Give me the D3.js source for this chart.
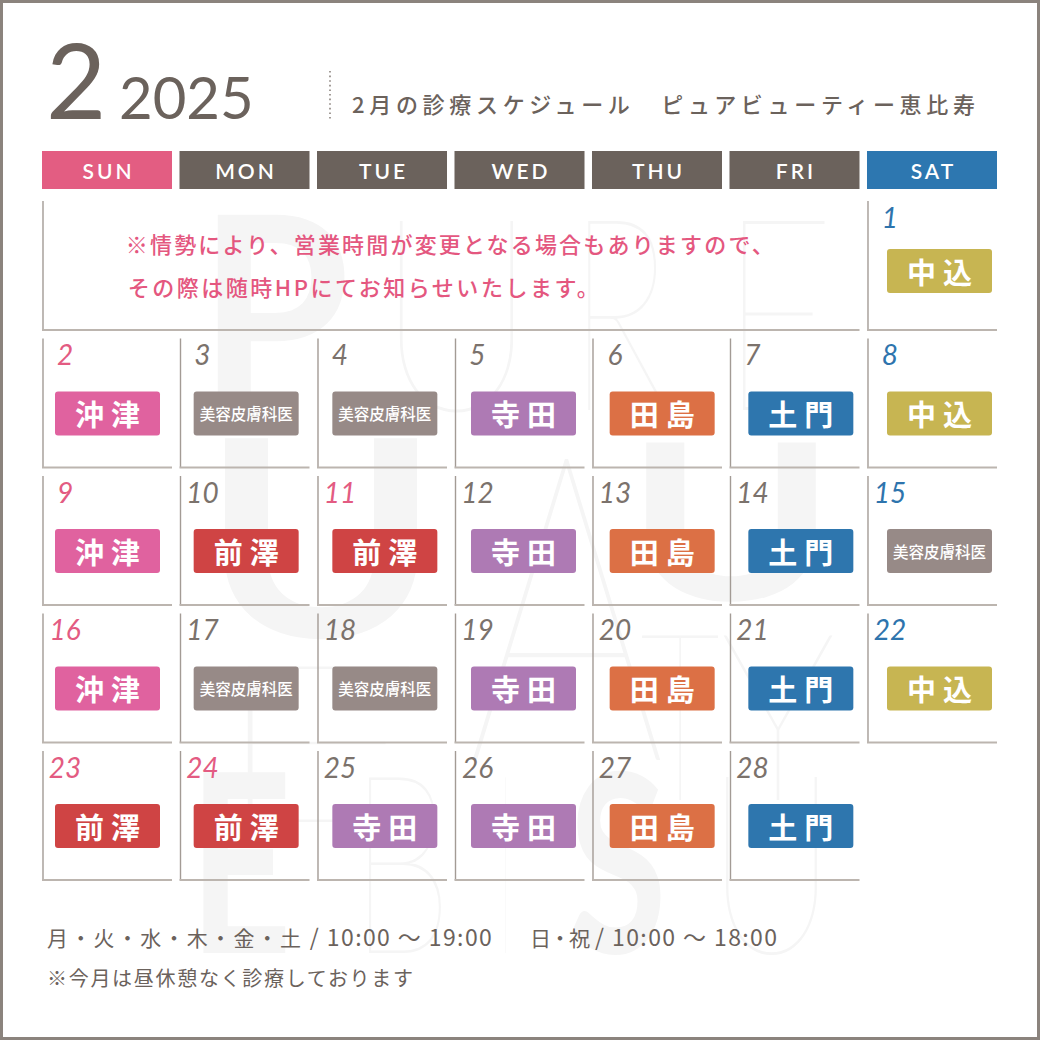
<!DOCTYPE html>
<html><head><meta charset="utf-8">
<script src="https://cdn.jsdelivr.net/npm/d3@7"></script>
<style>body{margin:0;background:#fff}svg{display:block}</style>
</head><body>
<svg id="c" width="1040" height="1040"></svg>
<script>
// ---- data ----
const monthNum = "2";
const yearLabel = "2025";
const subtitle = "2月の診療スケジュール　ピュアビューティー恵比寿";
const weekdays = ["SUN","MON","TUE","WED","THU","FRI","SAT"];
const firstWeekday = 6; // Feb 1, 2025 is Saturday
const dates = [1,2,3,4,5,6,7,8,9,10,11,12,13,14,15,16,17,18,19,20,21,22,23,24,25,26,27,28];
const doctors = ["中込",
  "沖津","美容皮膚科医","美容皮膚科医","寺田","田島","土門","中込",
  "沖津","前澤","前澤","寺田","田島","土門","美容皮膚科医",
  "沖津","美容皮膚科医","美容皮膚科医","寺田","田島","土門","中込",
  "前澤","前澤","寺田","寺田","田島","土門"];
const holidays = [11,23,24];
const noticeLines = ["※情勢により、営業時間が変更となる場合もありますので、","その際は随時HPにてお知らせいたします。"];
const hoursDays1 = "月・火・水・木・金・土";
const hoursTime1 = " / 10:00 ～ 19:00";
const hoursDays2 = "日・祝";
const hoursTime2 = " / 10:00 ～ 18:00";
const footNote = "※今月は昼休憩なく診療しております";
const doctorNames = ["沖津","美容皮膚科医","寺田","田島","土門","中込","前澤"];
const watermarkRows = ["PURE","UAU","ETY","EBISU"];

// ---- drawing ----
const svg = d3.select("#c");
const ink = "#6b625c";
const jp = "'Noto Sans CJK JP','Noto Sans',sans-serif";
const latin = "Lato,'Open Sans',sans-serif";

svg.append("rect").attr("width",1040).attr("height",1040).attr("fill","#fff");

// watermark (very faint logo letters)
const wmLayout = [
  // [row, index, x, baseline, fontSize, weight, width]
  [0,0,198,410,270,700,152],[0,1,376,410,270,100,161],[0,2,568,410,270,100,103],[0,3,720,410,270,100,116],
  [1,0,202,637,275,700,238],[1,1,466,760,430,100,201],[1,2,626,600,218,700,210],
  [2,0,202,822,222,100,230],[2,1,640,800,235,100,80],[2,2,720,800,235,100,116],
  [3,0,189,953,250,700,103],[3,1,350,953,250,100,102],[3,2,501,953,250,100,9],[3,3,568,953,250,700,99],[3,4,707,953,250,100,129]
];
svg.append("g").attr("fill","#f5f5f5").selectAll("text").data(wmLayout).join("text")
  .attr("x",d=>d[2]).attr("y",d=>d[3]).attr("font-size",d=>d[4]).attr("font-weight",d=>d[5])
  .attr("textLength",d=>d[6]).attr("lengthAdjust","spacingAndGlyphs")
  .attr("font-family","Lato,Inter,sans-serif").text(d=>watermarkRows[d[0]][d[1]]);

// frame
svg.append("rect").attr("x",1.5).attr("y",1.5).attr("width",1037).attr("height",1037)
  .attr("fill","none").attr("stroke","#8b837d").attr("stroke-width",3);

// header
svg.append("text").attr("x",46).attr("y",119).attr("font-size",104).attr("font-family",latin)
  .attr("fill",ink).text(monthNum);
svg.append("text").attr("x",119).attr("y",119).attr("font-size",58).attr("font-family",latin)
  .attr("fill",ink).text(yearLabel);
svg.append("line").attr("x1",330).attr("x2",330).attr("y1",71).attr("y2",121)
  .attr("stroke","#8b837d").attr("stroke-width",1.6).attr("stroke-dasharray","1.6,3");
svg.append("text").attr("x",352).attr("y",113).attr("font-size",22).attr("font-family",jp)
  .attr("font-weight",500).attr("fill",ink).attr("textLength",623).attr("lengthAdjust","spacing").text(subtitle);

// scales
const x = d3.scaleBand().domain(weekdays).range([42,997]).paddingInner(0.0545);
const y = d3.scaleBand().domain(d3.range(5)).range([201,880]).paddingInner(0.0618);
const bx = d3.scaleLinear().domain([0,6]).range([55,887]);
const bw = x.bandwidth(), bh = y.bandwidth();
const headColor = d3.scaleOrdinal().domain(weekdays).range(["#e35d82","#6b625c","#6b625c","#6b625c","#6b625c","#6b625c","#2d77b0"]);
const docColor = d3.scaleOrdinal().domain(doctorNames)
  .range(["#e0629f","#978a87","#ae7ab4","#dc7045","#2e76ae","#c7b552","#cf4444"]);

// weekday header
const hd = svg.append("g").selectAll("g").data(weekdays).join("g");
hd.append("rect").attr("x",d=>x(d)).attr("y",151).attr("width",bw).attr("height",38).attr("fill",d=>headColor(d));
hd.append("text").attr("x",d=>x(d)+bw/2+1.5).attr("y",179).attr("text-anchor","middle")
  .attr("font-family",latin).attr("font-size",21).attr("font-weight",600).attr("letter-spacing",3)
  .attr("fill","#fff").text(d=>d);

// cells
const cells = dates.map((d,i)=>{const idx=d-1+firstWeekday;return {date:d,doc:doctors[i],row:Math.floor(idx/7),col:idx%7};});
const lineG = svg.append("g");
lineG.append("line").attr("x1",x("SUN")+1).attr("x2",x("SUN")+1).attr("y1",y(0)).attr("y2",y(0)+bh)
  .attr("stroke","#a39b95").attr("stroke-width",1.4);
lineG.append("line").attr("x1",x("SUN")).attr("x2",x("FRI")+bw).attr("y1",y(0)+bh).attr("y2",y(0)+bh)
  .attr("stroke","#bcb5af").attr("stroke-width",2);
lineG.selectAll(".vl").data(cells).join("line").attr("class","vl")
  .attr("x1",d=>x(weekdays[d.col])+1).attr("x2",d=>x(weekdays[d.col])+1)
  .attr("y1",d=>y(d.row)).attr("y2",d=>y(d.row)+bh).attr("stroke","#a39b95").attr("stroke-width",1.4);
lineG.selectAll(".hl").data(cells).join("line").attr("class","hl")
  .attr("x1",d=>x(weekdays[d.col])).attr("x2",d=>x(weekdays[d.col])+bw)
  .attr("y1",d=>y(d.row)+bh).attr("y2",d=>y(d.row)+bh).attr("stroke","#bcb5af").attr("stroke-width",2);

// notice
const nx = (x("SUN")+x("FRI")+bw)/2 - 325;
svg.append("text").attr("x",nx).attr("y",253).attr("font-size",22).attr("font-family",jp).attr("font-weight",500)
  .attr("fill","#e4577f").attr("textLength",648).attr("lengthAdjust","spacing").text(noticeLines[0]);
svg.append("text").attr("x",nx+2).attr("y",296).attr("font-size",22).attr("font-family",jp).attr("font-weight",500)
  .attr("fill","#e4577f").attr("textLength",471).attr("lengthAdjust","spacing").text(noticeLines[1]);

// day numbers
const numColor = d => (d.col===0 || holidays.includes(d.date)) ? "#e35b82" : (d.col===6 ? "#2e74ad" : "#7b726c");
svg.append("g").selectAll("text").data(cells).join("text")
  .attr("x",d=>x(weekdays[d.col])+23).attr("y",d=>y(d.row)+27).attr("text-anchor","middle")
  .attr("font-family",latin).attr("font-style","italic").attr("font-weight",400).attr("font-size",28)
  .attr("fill",numColor).text(d=>d.date);

// badges
const bY = d => y(d.row) + (d.row===0 ? 48 : 53);
const bg = svg.append("g").selectAll("g").data(cells).join("g");
bg.append("rect").attr("x",d=>bx(d.col)).attr("y",bY).attr("width",105).attr("height",44).attr("rx",3)
  .attr("fill",d=>docColor(d.doc));
bg.append("text")
  .attr("x",d=>bx(d.col)+52.5 + (d.doc.length>2?0:3.5)).attr("y",d=>bY(d)+22)
  .attr("text-anchor","middle").attr("dominant-baseline","central")
  .attr("font-family",jp).attr("font-weight",d=>d.doc.length>2?500:700)
  .attr("font-size",d=>d.doc.length>2?15.5:29).attr("letter-spacing",d=>d.doc.length>2?0:7)
  .attr("fill","#fff").text(d=>d.doc);

// footer
function hours(x0, days, time, ls){
  const t = svg.append("text").attr("x",x0).attr("y",946).attr("font-family",jp).attr("fill",ink);
  t.append("tspan").attr("font-size",21).attr("letter-spacing",ls).text(days);
  t.append("tspan").attr("font-size",23).attr("letter-spacing",1.4).text(time);
}
hours(47, hoursDays1, hoursTime1, 2.3);
hours(530, hoursDays2, hoursTime2, -1.5);
svg.append("text").attr("x",47).attr("y",986).attr("font-size",20).attr("font-family",jp)
  .attr("fill",ink).attr("textLength",366).attr("lengthAdjust","spacing").text(footNote);
</script>
</body></html>
